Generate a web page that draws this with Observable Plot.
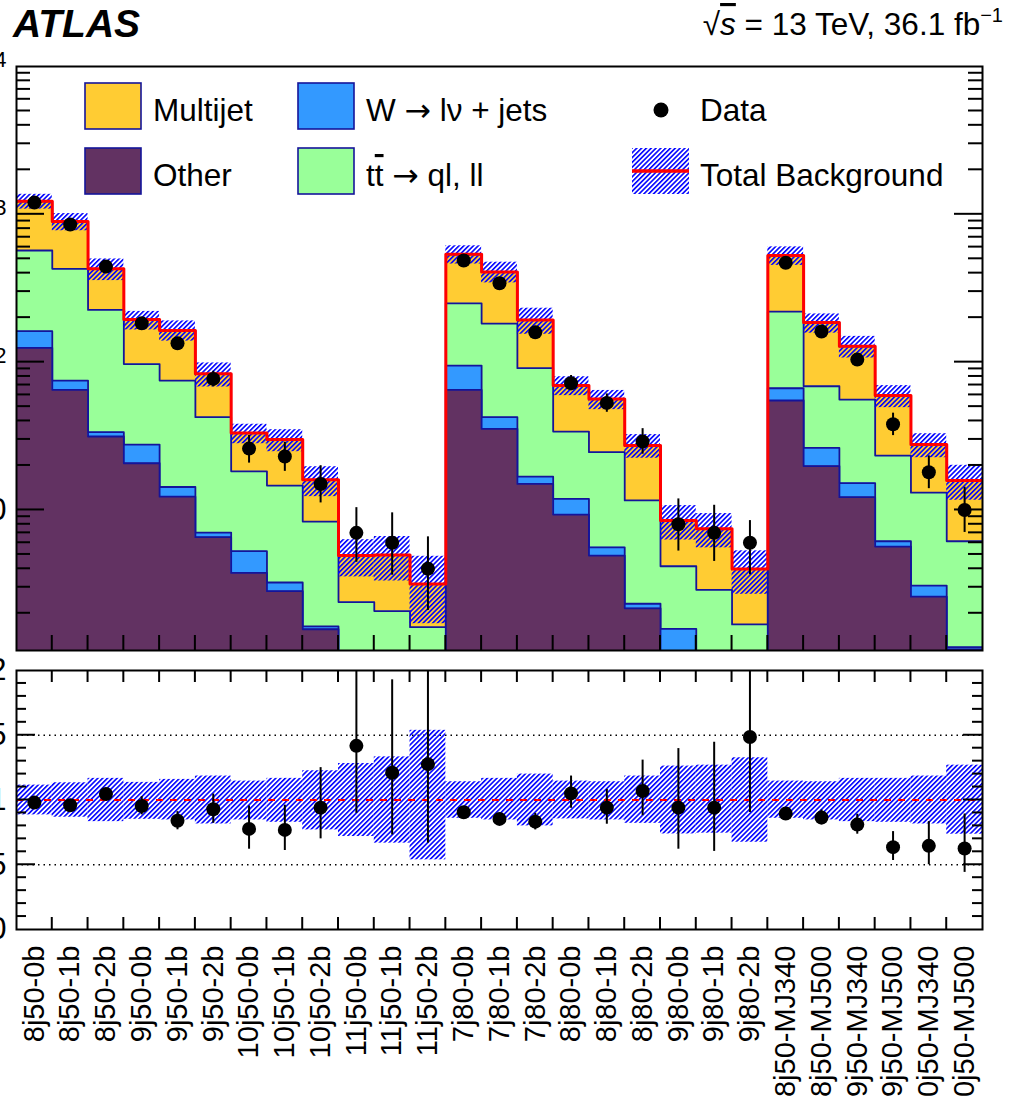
<!DOCTYPE html>
<html><head><meta charset="utf-8">
<script src="https://cdn.jsdelivr.net/npm/d3@7"></script>
<script src="https://cdn.jsdelivr.net/npm/@observablehq/plot@0.6"></script>
<style>
html,body{margin:0;padding:0;width:1012px;height:1096px;overflow:hidden;background:#fff;font-family:"Liberation Sans",Arial,sans-serif;}
#wrap{position:relative;width:1012px;height:1096px;overflow:hidden;background:#fff;}
#wrap svg{max-width:none !important;position:absolute;}
</style></head>
<body><div id="wrap"></div>
<script>
// ---------------- data ----------------
const labels = ["8j50-0b","8j50-1b","8j50-2b","9j50-0b","9j50-1b","9j50-2b","10j50-0b","10j50-1b","10j50-2b","11j50-0b","11j50-1b","11j50-2b","7j80-0b","7j80-1b","7j80-2b","8j80-0b","8j80-1b","8j80-2b","9j80-0b","9j80-1b","9j80-2b","8j50-MJ340","8j50-MJ500","9j50-MJ340","9j50-MJ500","10j50-MJ340","10j50-MJ500"];
const other    = [125, 65, 31.4, 20.7, 12.3, 6.54, 3.75, 2.82, 1.56, 0.6, 0.6, 0.6, 64.9, 35.4, 15.0, 9.31, 4.91, 2.16, 0.7, 0.5, 0.4, 55.0, 19.8, 12.2, 5.65, 2.59, 1.14];
const wjets    = [37, 10, 2.2, 7.0, 2.0, 0.49, 1.51, 0.41, 0.07, 0.3, 0.3, 0.3, 29.9, 7.0, 1.8, 2.59, 0.68, 0.16, 0.87, 0.3, 0.3, 11.6, 6.5, 3.0, 0.49, 0.49, 0.04];
const ttbar    = [407, 353, 192, 69.3, 60.7, 35.4, 13.0, 11.4, 6.72, 1.48, 1.17, 0.71, 155, 140, 74.2, 22.0, 19.0, 9.28, 2.59, 2.08, 0.98, 153, 42.4, 40.6, 17.2, 10.0, 4.96];
const multijet = [656, 465, 202, 97, 89, 40.9, 14.9, 15.3, 7.65, 2.53, 2.89, 1.55, 287, 224, 102, 35.6, 31.8, 15.7, 4.32, 4.57, 2.31, 306, 117, 72.2, 36.1, 14.6, 9.66];
const dataCounts = [1200, 853, 443, 183, 134, 77, 26, 23, 15, 7, 6, 4, 487, 342, 159, 72, 53, 29, 8, 7, 6, 470, 161, 104, 38, 18, 10];
const ratioVals  = [0.98, 0.96, 1.046, 0.954, 0.84, 0.928, 0.777, 0.769, 0.941, 1.418, 1.21, 1.277, 0.905, 0.854, 0.833, 1.051, 0.941, 1.069, 0.941, 0.941, 1.487, 0.895, 0.864, 0.81, 0.636, 0.646, 0.626];
const ratioErrLo = [0.965, 0.945, 1.03, 0.885, 0.77, 0.82, 0.62, 0.61, 0.70, 0.897, 0.73, 0.667, 0.89, 0.84, 0.769, 0.936, 0.813, 0.879, 0.62, 0.603, 0.903, 0.88, 0.808, 0.736, 0.533, 0.5, 0.441];
const ratioErrHi = [0.995, 0.975, 1.062, 1.026, 0.91, 1.046, 0.954, 0.96, 1.25, 2.1, 1.928, 2.1, 0.92, 0.87, 0.897, 1.185, 1.082, 1.308, 1.397, 1.446, 2.1, 0.91, 0.923, 0.89, 0.756, 0.833, 0.892];
const bandLo = [0.885, 0.867, 0.833, 0.851, 0.846, 0.815, 0.846, 0.828, 0.769, 0.718, 0.667, 0.538, 0.859, 0.846, 0.8, 0.854, 0.846, 0.82, 0.738, 0.744, 0.674, 0.859, 0.846, 0.833, 0.828, 0.815, 0.736];
const bandHi = [1.115, 1.133, 1.167, 1.136, 1.159, 1.185, 1.146, 1.167, 1.226, 1.282, 1.333, 1.538, 1.141, 1.167, 1.2, 1.146, 1.141, 1.185, 1.262, 1.269, 1.326, 1.146, 1.141, 1.167, 1.167, 1.185, 1.269];
const topTicks = [10, 100, 1000, 10000];
const topTickExp = ["", "2", "3", "4"];
const ratioTicks = [0, 0.5, 1, 1.5, 2];
const ratioTickLabels = ["0", "0.5", "1", "1.5", "2"];
const ratioGuides = [0.5, 1.5];
const ratioRef = [1];
const seriesNames = ["Multijet", "W → lν + jets", "Other", "Data", "Total Background"];

// ---------------- style ----------------
const C = {multijet: "#FFCC33", wjets: "#3399FF", ttbar: "#99FF99", other: "#623262", edge: "#14149a"};
const FONT = "Liberation Sans, Arial, Helvetica, sans-serif";
const n = labels.length;

const rows = labels.map((lab, i) => {
  const c1 = other[i], c2 = c1 + wjets[i], c3 = c2 + ttbar[i], c4 = c3 + multijet[i];
  return {i, lab, c1, c2, c3, c4, data: dataCounts[i], r: ratioVals[i], rLo: ratioErrLo[i], rHi: ratioErrHi[i], bLo: bandLo[i], bHi: bandHi[i]};
});
const steps = key => rows.flatMap(d => [{x: d.i, y: d[key]}, {x: d.i + 1, y: d[key]}]);
const FLOOR = 0.01;

function addHatch(svg, id) {
  const defs = d3.select(svg).insert("defs", ":first-child");
  const p = defs.append("pattern").attr("id", id).attr("patternUnits", "userSpaceOnUse")
    .attr("width", 3.4).attr("height", 3.4).attr("patternTransform", "rotate(45)");
  p.append("line").attr("x1", 0.8).attr("y1", -1).attr("x2", 0.8).attr("y2", 5).attr("stroke", "#0000ff").attr("stroke-width", 1.6);
}

function drawTicks(svg, plot, dims, spec) {
  const g = d3.select(svg).append("g").attr("stroke", "black").attr("stroke-width", 2).attr("fill", "none");
  const xs = plot.scale("x"), ys = plot.scale("y");
  const L = dims.ML, R = dims.W - dims.MR, T = dims.MT, B = dims.H - dims.MB;
  for (const e of d3.range(1, n)) {
    const px = xs.apply(e);
    if (spec.bottomLen) g.append("line").attr("x1", px).attr("x2", px).attr("y1", B).attr("y2", B - spec.bottomLen);
    if (spec.topLen) g.append("line").attr("x1", px).attr("x2", px).attr("y1", T).attr("y2", T + spec.topLen);
  }
  const yt = (vals, len) => { for (const v of vals) { const py = ys.apply(v);
    g.append("line").attr("x1", L).attr("x2", L + len).attr("y1", py).attr("y2", py);
    g.append("line").attr("x1", R).attr("x2", R - len).attr("y1", py).attr("y2", py); } };
  yt(spec.yMajor, spec.majorLen);
  yt(spec.yMinor, spec.minorLen);
}

const wrap = document.getElementById("wrap");

// ---------------- top panel ----------------
const D1 = {ML: 80, MR: 30, MT: 10, MB: 10, W: 1076, H: 604};
const topPlot = Plot.plot({
  width: D1.W, height: D1.H, marginLeft: D1.ML, marginRight: D1.MR, marginTop: D1.MT, marginBottom: D1.MB,
  style: {fontFamily: FONT, background: "transparent", overflow: "visible", maxWidth: "none"},
  x: {domain: [0, n], axis: null},
  y: {type: "log", domain: [1.12, 1e4], label: null},
  marks: [
    ...[["c4", C.multijet], ["c3", C.ttbar], ["c2", C.wjets], ["c1", C.other]].flatMap(([k, col]) => [
      Plot.areaY(steps(k), {x: "x", y1: FLOOR, y2: "y", fill: col, clip: true}),
      Plot.line(steps(k), {x: "x", y: "y", stroke: C.edge, strokeWidth: 1.8, clip: true})
    ]),
    Plot.rect(rows, {x1: "i", x2: d => d.i + 1, y1: d => d.c4 * d.bLo, y2: d => d.c4 * d.bHi, fill: "url(#hatchTop)", clip: true}),
    Plot.line(steps("c4"), {x: "x", y: "y", stroke: "#ff0000", strokeWidth: 3, clip: true}),
    Plot.ruleX(rows, {x: d => d.i + 0.5, y1: d => d.data * d.rLo / d.r, y2: d => d.data * d.rHi / d.r, stroke: "black", strokeWidth: 2, clip: true}),
    Plot.dot(rows, {x: d => d.i + 0.5, y: "data", r: 7, fill: "black", stroke: "none"}),
    Plot.axisY({ticks: topTicks, tickFormat: d => "10", tickSize: 0, tickPadding: 10, fontSize: 31, label: null}),
    Plot.frame({stroke: "black", strokeWidth: 2})
  ]
});
// ROOT-style exponent labels: 10 with a raised superscript
d3.select(topPlot).selectAll('[aria-label="y-axis tick label"] text').each(function(d, k) {
  const t = d3.select(this);
  const exp = topTickExp[k];
  if (exp) { t.text(null); t.append("tspan").text("10"); t.append("tspan").attr("font-size", 22).attr("dy", "-0.42em").text(exp); }
});
addHatch(topPlot, "hatchTop");
const minors = [];
for (let e = 0; e < 4; e++) for (let k = 2; k <= 9; k++) minors.push(k * Math.pow(10, e));
drawTicks(topPlot, topPlot, D1, {bottomLen: 15, topLen: 0, yMajor: [10, 100, 1000], yMinor: minors, majorLen: 28, minorLen: 14});
topPlot.style.left = (16 - D1.ML) + "px";
topPlot.style.top = (66 - D1.MT) + "px";
wrap.appendChild(topPlot);

// ---------------- ratio panel ----------------
const D2 = {ML: 80, MR: 30, MT: 10, MB: 200, W: 1076, H: 469};
const ratioPlot = Plot.plot({
  width: D2.W, height: D2.H, marginLeft: D2.ML, marginRight: D2.MR, marginTop: D2.MT, marginBottom: D2.MB,
  style: {fontFamily: FONT, background: "transparent", overflow: "visible", maxWidth: "none"},
  x: {domain: [0, n], label: null},
  y: {domain: [0, 2], label: null},
  marks: [
    Plot.ruleY(ratioGuides, {stroke: "black", strokeWidth: 1.5, strokeDasharray: "1.5,4"}),
    Plot.rect(rows, {x1: "i", x2: d => d.i + 1, y1: "bLo", y2: "bHi", fill: "url(#hatchRatio)"}),
    Plot.ruleY(ratioRef, {stroke: "#ff0000", strokeWidth: 2, strokeDasharray: "7,7"}),
    Plot.ruleX(rows, {x: d => d.i + 0.5, y1: "rLo", y2: "rHi", stroke: "black", strokeWidth: 2, clip: true}),
    Plot.dot(rows, {x: d => d.i + 0.5, y: "r", r: 7, fill: "black", stroke: "none"}),
    Plot.axisY({ticks: ratioTicks, tickFormat: d => ratioTickLabels[ratioTicks.indexOf(d)], tickSize: 0, tickPadding: 10, fontSize: 31, label: null}),
    Plot.axisX({ticks: rows.map(d => d.i + 0.5), tickFormat: d => labels[Math.floor(d)], tickRotate: -90, tickSize: 0, tickPadding: 16, fontSize: 29, label: null}),
    Plot.frame({stroke: "black", strokeWidth: 2})
  ]
});
addHatch(ratioPlot, "hatchRatio");
const rMinor = d3.range(1, 20).map(k => k / 10).filter(v => Math.abs(v * 2 - Math.round(v * 2)) > 1e-6);
drawTicks(ratioPlot, ratioPlot, D2, {bottomLen: 12, topLen: 12, yMajor: [0.5, 1, 1.5], yMinor: rMinor, majorLen: 19, minorLen: 10});
ratioPlot.style.left = (16 - D2.ML) + "px";
ratioPlot.style.top = (670 - D2.MT) + "px";
wrap.appendChild(ratioPlot);

// ---------------- header & legend overlay ----------------
const ov = d3.select(wrap).append("svg").attr("width", 1012).attr("height", 210)
  .style("left", "0px").style("top", "0px").style("font-family", FONT).style("pointer-events", "none");
addHatch(ov.node(), "hatchLeg");
ov.append("text").attr("x", 13).attr("y", 37).attr("font-size", 39).attr("font-weight", "bold").attr("font-style", "italic").text("ATLAS");
const lum = ov.append("text").attr("x", 1003).attr("y", 35).attr("font-size", 31.5).attr("text-anchor", "end");
lum.append("tspan").text("√");
lum.append("tspan").attr("font-style", "italic").attr("text-decoration", "overline").text("s");
lum.append("tspan").text(" = 13 TeV, 36.1 fb");
lum.append("tspan").attr("font-size", 20).attr("dy", -13).text("−1");

const box = (x, y, fill) => ov.append("rect").attr("x", x).attr("y", y).attr("width", 56).attr("height", 46)
  .attr("fill", fill).attr("stroke", C.edge).attr("stroke-width", 1.6);
const label = (x, y, t) => {
  const el = ov.append("text").attr("x", x).attr("y", y).attr("font-size", 31.5);
  t.split("→").forEach((part, j) => {
    if (j > 0) el.append("tspan").attr("font-family", "DejaVu Sans").text("→");
    el.append("tspan").text(part);
  });
  return el;
};
box(85, 83, C.multijet); label(153, 121, seriesNames[0]);
box(85, 148, C.other);   label(153, 186, seriesNames[2]);
box(298, 83, C.wjets);   label(366, 121, seriesNames[1]);
box(298, 148, C.ttbar);
const tt = ov.append("text").attr("x", 366).attr("y", 186).attr("font-size", 31.5);
tt.append("tspan").text("t");
tt.append("tspan").attr("text-decoration", "overline").text("t");
tt.append("tspan").text(" ");
tt.append("tspan").attr("font-family", "DejaVu Sans").text("→");
tt.append("tspan").text(" ql, ll");
ov.append("circle").attr("cx", 661).attr("cy", 110).attr("r", 7.5).attr("fill", "black");
label(700, 121, seriesNames[3]);
ov.append("rect").attr("x", 632).attr("y", 148).attr("width", 57).attr("height", 46).attr("fill", "url(#hatchLeg)");
ov.append("line").attr("x1", 632).attr("x2", 689).attr("y1", 171).attr("y2", 171).attr("stroke", "#ff0000").attr("stroke-width", 3.5);
label(700, 186, seriesNames[4]);
</script></body></html>
